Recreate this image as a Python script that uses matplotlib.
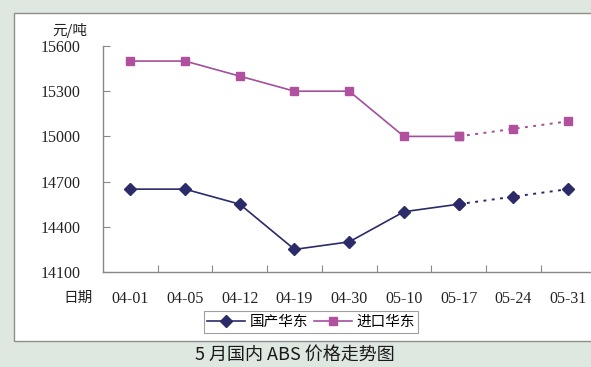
import matplotlib
matplotlib.use("Agg")
import matplotlib.pyplot as plt
from matplotlib.patches import Rectangle
from matplotlib.lines import Line2D

plt.rcParams['font.family'] = ['Noto Sans CJK SC', 'DejaVu Sans']

dates = ["04-01", "04-05", "04-12", "04-19", "04-30", "05-10", "05-17", "05-24", "05-31"]
domestic = [14650, 14650, 14550, 14250, 14300, 14500, 14550, 14600, 14650]
imported = [15500, 15500, 15400, 15300, 15300, 15000, 15000, 15050, 15100]
yticks = [14100, 14400, 14700, 15000, 15300, 15600]
n_actual = 7  # points up to 05-17 are actual, the rest forecast

W, H = 591, 367
fig = plt.figure(figsize=(W / 100, H / 100), dpi=100)
fig.patch.set_facecolor('#dfe7e1')

# white chart panel
panel = Rectangle((14 / W, 1 - 341 / H), 1, (341 - 13) / H,
                  transform=fig.transFigure, facecolor='white',
                  edgecolor='#8a8f8c', linewidth=1.0, zorder=-5)
fig.patches.append(panel)

ax = fig.add_axes([103 / W, 1 - 272 / H, (595.4 - 103) / W, (272 - 46) / H])
ax.set_zorder(2)
ax.set_facecolor('none')
x = list(range(len(dates)))

c_dom = '#2a2b68'
c_imp = '#a24f9c'
m_imp = '#b0509f'

ax.plot(x[:n_actual], domestic[:n_actual], color=c_dom, lw=1.2, marker='D', ms=6,
        mfc=c_dom, mec=c_dom, clip_on=False, zorder=3)
ax.plot(x[n_actual - 1:], domestic[n_actual - 1:], color=c_dom, lw=1.4, ls=(0, (1.5, 2.8)),
        marker='D', ms=6, mfc=c_dom, mec=c_dom, clip_on=False, zorder=3)
ax.plot(x[:n_actual], imported[:n_actual], color=c_imp, lw=1.2, marker='s', ms=6,
        mfc=m_imp, mec=m_imp, clip_on=False, zorder=3)
ax.plot(x[n_actual - 1:], imported[n_actual - 1:], color=c_imp, lw=1.4, ls=(0, (1.5, 2.8)),
        marker='s', ms=6, mfc=m_imp, mec=m_imp, clip_on=False, zorder=3)

ax.set_xlim(-0.5, len(dates) - 0.5)
ax.set_ylim(14100, 15600)
ax.set_yticks(yticks)
ax.set_yticklabels([str(v) for v in yticks], family='Liberation Serif', fontsize=11.5,
                   color='#222222')
ax.set_xticks([i + 0.5 for i in range(len(dates) - 1)])
ax.set_xticklabels([])
ax.set_xticks(x, minor=True)
ax.set_xticklabels(dates, minor=True, family='Liberation Serif', fontsize=11.5,
                   color='#222222')
ax.tick_params(axis='x', which='minor', length=0, pad=14)
ax.tick_params(axis='x', which='major', direction='in', length=5, color='#888888')
ax.tick_params(axis='y', direction='in', length=5, color='#888888', pad=16)
for s in ['top', 'right']:
    ax.spines[s].set_visible(False)
for s in ['left', 'bottom']:
    ax.spines[s].set_color('#888888')
    ax.spines[s].set_linewidth(1.0)

fig.text(52 / W, 1 - 30 / H, "元/吨", fontsize=10.5, ha='left', va='center', color='#222222')
fig.text(93 / W, 1 - 298 / H, "日期", fontsize=10.5, ha='right', va='center', color='#222222')

handles = [Line2D([], [], color=c_dom, lw=1.2, marker='D', ms=6, mfc=c_dom, mec=c_dom),
           Line2D([], [], color=c_imp, lw=1.2, marker='s', ms=6, mfc=m_imp, mec=m_imp)]
leg = fig.legend(handles, ["国产华东", "进口华东"], loc='center',
                 bbox_to_anchor=(311 / W, 1 - 322 / H), ncol=2, frameon=True,
                 fancybox=False, edgecolor='#888888', fontsize=10.5, handlelength=2.6,
                 handletextpad=0.3, columnspacing=0.4, borderpad=0.25)
leg.get_frame().set_linewidth(0.8)

fig.text(295 / W, 1 - 355 / H, "5 月国内 ABS 价格走势图", fontsize=13, ha='center',
         va='center', color='#1a1a1a')

fig.savefig("out.png", dpi=100, facecolor=fig.get_facecolor())
